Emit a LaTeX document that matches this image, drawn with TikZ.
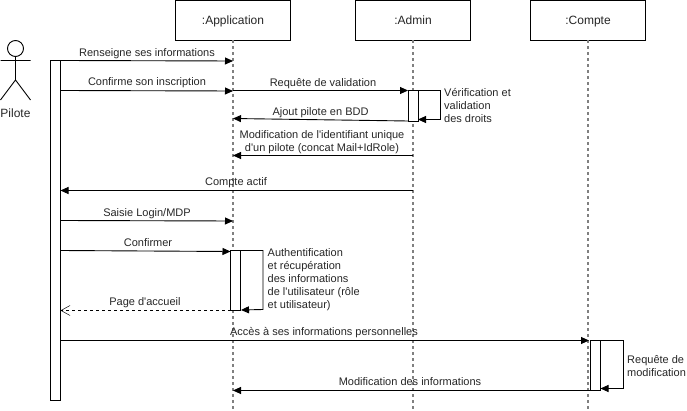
\documentclass[tikz,border=0pt]{standalone}
\usepackage{fontspec}
\setmainfont{Liberation Sans}
\newfontfamily\plainsans{Liberation Sans}
\usetikzlibrary{arrows.meta}
\tikzset{
  lifebox/.style={draw=black,fill=white,line width=0.9pt,minimum width=115pt,minimum height=40pt,inner sep=0pt,text height=9pt,text depth=0pt,font=\plainsans\fontsize{12}{14}\selectfont,text=black!85},
  lifeline/.style={draw=black!50,line width=1.1pt,dash pattern=on 3pt off 3pt},
  bar/.style={draw=black,fill=white,line width=0.9pt,minimum width=10pt,inner sep=0pt},
  msg/.style={draw=black,line width=0.9pt,-{Triangle[length=8pt,width=7pt]}},
  reply/.style={draw=black,line width=0.8pt,dash pattern=on 3pt off 3pt,-{Straight Barb[length=9pt,width=10pt,line width=0.5pt]}},
  lbl/.style={inner sep=0pt,text height=9pt,text depth=0pt,font=\plainsans\fontsize{11}{13}\selectfont,text=black!85},
  twolines/.style={inner sep=0pt,text=black!85,align=center,font=\plainsans\fontsize{11}{13.2}\selectfont},
  note/.style={inner sep=0pt,text=black!85,align=left,anchor=north west,font=\plainsans\fontsize{11}{13}\selectfont},
}
\begin{document}
\begin{tikzpicture}[x=1pt,y=-1pt]
\useasboundingbox (0,0) rectangle (687,411);
\node[lifebox] (app) at (233,20) {:Application};
\node[lifebox] (adm) at (413,20) {:Admin};
\node[lifebox] (cpt) at (588,20) {:Compte};
\coordinate (append) at (233,411);
\coordinate (admend) at (413,411);
\coordinate (cptend) at (588,411);
\draw[lifeline] (app.south) -- (append);
\draw[lifeline] (adm.south) -- (admend);
\draw[lifeline] (cpt.south) -- (cptend);
% actor
\coordinate (head) at (15.5,48.5);
\coordinate (hip) at (15.5,80);
\coordinate (armL) at (0.5,60.5);
\coordinate (armR) at (30.5,60.5);
\coordinate (legL) at (0.5,100);
\coordinate (legR) at (30.5,100);
\coordinate (neck) at (15.5,56.5);
\draw[line width=0.9pt,black] (head) circle[radius=8pt] (neck) -- (hip) (armL) -- (armR) (legL) -- (hip) -- (legR);
\node[lbl,font=\plainsans\fontsize{12}{14}\selectfont] (pilote) at (15.5,113.5) {Pilote};
% bars
\node[bar,minimum height=340pt] (bp) at (55.5,230.5) {};
\node[bar,minimum height=31pt] (bd) at (413,105.5) {};
\node[bar,minimum height=60pt] (ba) at (235.5,280.5) {};
\node[bar,minimum height=50pt] (bc) at (595.5,365.5) {};
% anchors on lifelines
\coordinate (a61) at (233,61);
\coordinate (p60) at (60.5,60.5);
\coordinate (a90) at (233,91);
\coordinate (p90) at (60.5,90.5);
\coordinate (d90) at (408,90.5);
\coordinate (a90b) at (233,90.5);
\coordinate (d121) at (408,121);
\coordinate (a118) at (233,118.5);
\coordinate (d155) at (413,155.5);
\coordinate (a155) at (233,155.5);
\coordinate (d190) at (413,190.5);
\coordinate (p190) at (60.5,190.5);
\coordinate (p220) at (60.5,220.5);
\coordinate (a221) at (233,221);
\coordinate (p250) at (60.5,250.5);
\coordinate (a251) at (230.5,251.5);
\coordinate (a310) at (230.5,310.5);
\coordinate (p310) at (60.5,310.5);
\coordinate (p340) at (60.5,340.5);
\coordinate (c340) at (589,340.5);
\coordinate (c390) at (590.5,390.5);
\coordinate (a390) at (233,390.5);
% messages
\draw[msg] (p60) -- (a61);
\draw[msg] (p90) -- (a90);
\draw[msg] (a90b) -- (d90);
\draw[msg] (d121) -- (a118);
\draw[msg] (d155) -- (a155);
\draw[msg] (d190) -- (p190);
\draw[msg] (p220) -- (a221);
\draw[msg] (p250) -- (a251);
\draw[reply] (a310) -- (p310);
\draw[msg] (p340) -- (c340);
\draw[msg] (c390) -- (a390);
% self loops
\coordinate (l1a) at (418,90.5);\coordinate (l1b) at (440.5,90.5);\coordinate (l1c) at (440.5,119.5);\coordinate (l1d) at (418,119.5);
\draw[msg] (l1a) -- (l1b) -- (l1c) -- (l1d);
\coordinate (l2a) at (240.5,250.5);\coordinate (l2b) at (263,250.5);\coordinate (l2c) at (263,309.5);\coordinate (l2d) at (241,310);
\draw[msg] (l2a) -- (l2b) -- (l2c) -- (l2d);
\coordinate (l3a) at (600.5,340.5);\coordinate (l3b) at (623.5,340.5);\coordinate (l3c) at (623.5,388.5);\coordinate (l3d) at (600.5,388.5);
\draw[msg] (l3a) -- (l3b) -- (l3c) -- (l3d);
% labels
\node[lbl] (t1) at (147,52) {Renseigne ses informations};
\node[lbl] (t2) at (147,81) {Confirme son inscription};
\node[lbl] (t3) at (323,82) {Requête de validation};
\node[lbl] (t4) at (320.5,111) {Ajout pilote en BDD};
\node[twolines] (t5) at (322,142) {Modification de l'identifiant unique\\d'un pilote (concat Mail+IdRole)};
\node[lbl] (t6) at (236,181) {Compte actif};
\node[lbl] (t7) at (147,212) {Saisie Login/MDP};
\node[lbl] (t8) at (148,242) {Confirmer};
\node[lbl] (t9) at (145,301) {Page d'accueil};
\node[lbl] (t10) at (324,331) {Accès à ses informations personnelles};
\node[lbl] (t11) at (410,381) {Modification des informations};
\node[note] (n1) at (444,88) {Vérification et\\validation\\des droits};
\node[note] (n2) at (267.5,248) {Authentification\\et récupération\\des informations\\de l'utilisateur (rôle\\et utilisateur)};
\node[note] (n3) at (627,355) {Requête de\\modification};
\end{tikzpicture}
\end{document}
